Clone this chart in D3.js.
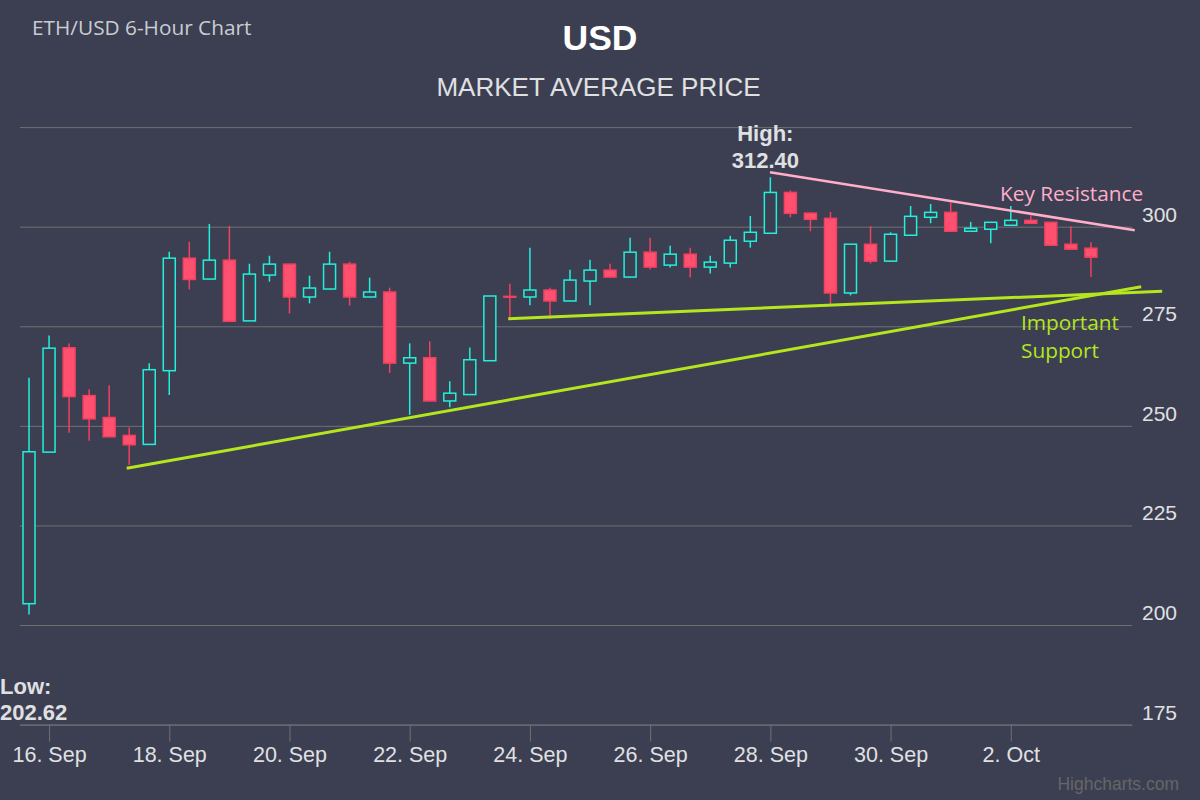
<!DOCTYPE html>
<html>
<head>
<meta charset="utf-8">
<script src="https://cdn.jsdelivr.net/npm/d3@7"></script>
<style>
html,body{margin:0;padding:0;background:#3b3f51;}
svg{display:block;}
</style>
</head>
<body>
<svg id="chart" width="1200" height="800"></svg>
<script>
// ---- data ----
const dates = [
"2017-09-15T16:00Z","2017-09-16T00:00Z","2017-09-16T08:00Z","2017-09-16T16:00Z",
"2017-09-17T00:00Z","2017-09-17T08:00Z","2017-09-17T16:00Z","2017-09-18T00:00Z",
"2017-09-18T08:00Z","2017-09-18T16:00Z","2017-09-19T00:00Z","2017-09-19T08:00Z",
"2017-09-19T16:00Z","2017-09-20T00:00Z","2017-09-20T08:00Z","2017-09-20T16:00Z",
"2017-09-21T00:00Z","2017-09-21T08:00Z","2017-09-21T16:00Z","2017-09-22T00:00Z",
"2017-09-22T08:00Z","2017-09-22T16:00Z","2017-09-23T00:00Z","2017-09-23T08:00Z",
"2017-09-23T16:00Z","2017-09-24T00:00Z","2017-09-24T08:00Z","2017-09-24T16:00Z",
"2017-09-25T00:00Z","2017-09-25T08:00Z","2017-09-25T16:00Z","2017-09-26T00:00Z",
"2017-09-26T08:00Z","2017-09-26T16:00Z","2017-09-27T00:00Z","2017-09-27T08:00Z",
"2017-09-27T16:00Z","2017-09-28T00:00Z","2017-09-28T08:00Z","2017-09-28T16:00Z",
"2017-09-29T00:00Z","2017-09-29T08:00Z","2017-09-29T16:00Z","2017-09-30T00:00Z",
"2017-09-30T08:00Z","2017-09-30T16:00Z","2017-10-01T00:00Z","2017-10-01T08:00Z",
"2017-10-01T16:00Z","2017-10-02T00:00Z","2017-10-02T08:00Z","2017-10-02T16:00Z",
"2017-10-03T00:00Z","2017-10-03T08:00Z"];
const openV = [205.35,243.4,269.6,257.6,252.1,247.6,245.35,263.85,292.1,286.85,291.6,276.35,287.85,290.6,282.35,284.35,290.6,282.35,283.6,265.75,267.1,256.25,257.85,266.35,282.5,282.35,284.1,281.35,286.35,289.1,287.35,293.6,290.35,293.1,289.85,290.85,296.35,298.35,308.6,303.4,302.1,283.35,295.6,291.35,297.85,302.35,303.6,298.85,299.35,300.35,301.6,301.1,295.6,294.6];
const highV = [262.1,272.7,270.7,259.2,260.2,249.6,265.7,293.7,296.2,300.7,300.2,290.7,292.7,290.6,287.7,293.7,291.2,287.2,284.7,270.7,271.2,261.2,269.7,282.6,285.7,294.7,284.7,289.2,291.7,290.7,297.2,297.2,295.2,294.7,292.7,297.7,302.7,312.4,309.1,303.6,303.7,295.6,300.2,298.6,305.2,305.7,306.1,301.2,301.1,305.2,302.85,301.1,300.1,296.1];
const lowV = [202.62,243.3,248.25,246.25,247.2,240.2,245.3,257.75,284.25,286.8,276.2,276.3,286.2,278.2,280.75,284.3,280.2,282.3,263.25,252.75,256.2,254.7,257.8,266.3,277.35,280.25,276.85,281.3,280.25,287.3,287.3,289.25,289.75,287.25,288.25,289.75,294.75,298.3,302.35,298.85,280.6,282.75,290.75,291.3,297.8,300.85,298.85,298.8,295.85,300.3,300.85,295.35,294.3,287.35];
const closeV = [243.5,269.5,257.35,251.75,247.25,245.25,264.1,292.1,286.75,291.6,276.25,288.1,290.6,282.35,284.6,290.6,282.35,283.6,265.75,267.1,256.25,258.2,266.6,282.6,282.3,284.1,281.35,286.6,289.1,287.35,293.6,289.85,293.1,289.85,291.1,296.6,298.6,308.6,303.35,301.85,283.35,295.6,291.35,298.1,302.6,303.6,298.85,299.6,301.1,301.6,300.85,295.35,294.35,292.35];

const xTickDates = ["2017-09-16T00:00Z","2017-09-18T00:00Z","2017-09-20T00:00Z","2017-09-22T00:00Z","2017-09-24T00:00Z","2017-09-26T00:00Z","2017-09-28T00:00Z","2017-09-30T00:00Z","2017-10-02T00:00Z"];
const xTickLabels = ["16. Sep","18. Sep","20. Sep","22. Sep","24. Sep","26. Sep","28. Sep","30. Sep","2. Oct"];
const yGridTicks = [175,200,225,250,275,300,325];
const yLabelTicks = [175,200,225,250,275,300];

// trend lines: [date, value] endpoints
const resistanceLine = [["2017-09-27T23:50Z",313.66],["2017-10-04T01:30Z",299.1]];
const supportLower = [["2017-09-17T07:00Z",239.34],["2017-10-04T04:05Z",284.94]];
const supportUpper = [["2017-09-23T15:20Z",276.9],["2017-10-04T12:27Z",283.78]];

// ---- drawing ----
const W = 1200, H = 800;
const svg = d3.select("#chart");
svg.append("rect").attr("width", W).attr("height", H).attr("fill", "#3b3f51");

const x = d3.scaleUtc()
  .domain([new Date("2017-09-15T12:24Z"), new Date("2017-10-04T00:24Z")])
  .range([20, 1132]);
const y = d3.scaleLinear().domain([175, 325]).range([724.6, 127.1]);

const candles = dates.map((d, i) => ({
  t: new Date(d), o: openV[i], h: highV[i], l: lowV[i], c: closeV[i]
}));

const sansFont = "'Liberation Sans', Arial, sans-serif";
const uiFont = "'Open Sans', 'Noto Sans', sans-serif";

// gridlines + y labels
const yAxis = d3.axisRight(y)
  .tickValues(yGridTicks)
  .tickSizeInner(-(1132 - 20))
  .tickSizeOuter(0)
  .tickPadding(10)
  .tickFormat(v => yLabelTicks.includes(v) ? String(v) : "");
const gy = svg.append("g").attr("transform", "translate(1132,0)").call(yAxis);
gy.select(".domain").remove();
gy.selectAll(".tick line").attr("stroke", "#707073").attr("stroke-width", 1);
gy.selectAll(".tick text")
  .attr("fill", "#e0e0e3")
  .attr("font-family", sansFont)
  .attr("font-size", "21px")
  .attr("dy", "-5.5px");

// x axis
const xAxis = d3.axisBottom(x)
  .tickValues(xTickDates.map(d => new Date(d)))
  .tickFormat((d, i) => xTickLabels[i])
  .tickSizeInner(17)
  .tickSizeOuter(0)
  .tickPadding(5);
const gx = svg.append("g").attr("transform", `translate(0,${y(175)})`).call(xAxis);
gx.select(".domain").attr("stroke", "#707073").attr("stroke-width", 1);
gx.selectAll(".tick line").attr("stroke", "#707073").attr("stroke-width", 1);
gx.selectAll(".tick text")
  .attr("fill", "#e0e0e3")
  .attr("font-family", sansFont)
  .attr("font-size", "21.5px");

// candles
const upColor = "#22f0da";
const downFill = "#ff5070";
const downStroke = "#f2405f";
const bodyW = 12;
const gc = svg.append("g");
const cg = gc.selectAll("g.candle").data(candles).join("g").attr("class", "candle");
cg.append("line")
  .attr("x1", d => x(d.t)).attr("x2", d => x(d.t))
  .attr("y1", d => y(d.h)).attr("y2", d => y(d.l))
  .attr("stroke", d => d.c >= d.o ? upColor : downStroke)
  .attr("stroke-width", 1.5);
cg.append("rect")
  .attr("x", d => x(d.t) - bodyW / 2)
  .attr("width", bodyW)
  .attr("y", d => y(Math.max(d.o, d.c)))
  .attr("height", d => Math.max(0.8, Math.abs(y(d.o) - y(d.c))))
  .attr("fill", d => d.c >= d.o ? "#3b3f51" : downFill)
  .attr("stroke", d => d.c >= d.o ? upColor : downStroke)
  .attr("stroke-width", 1.5);

// trend lines
const lineGen = d3.line().x(p => x(new Date(p[0]))).y(p => y(p[1]));
svg.append("path").attr("d", lineGen(resistanceLine))
  .attr("stroke", "#ffaec9").attr("stroke-width", 2.5).attr("fill", "none");
svg.append("path").attr("d", lineGen(supportLower))
  .attr("stroke", "#b5e61d").attr("stroke-width", 3).attr("fill", "none");
svg.append("path").attr("d", lineGen(supportUpper))
  .attr("stroke", "#b5e61d").attr("stroke-width", 3).attr("fill", "none");

// titles
svg.append("text").attr("x", 600).attr("y", 50).attr("text-anchor", "middle")
  .attr("font-family", sansFont)
  .attr("font-size", "35.5px").attr("font-weight", "bold").attr("fill", "#ffffff")
  .text("USD");
svg.append("text").attr("x", 598.5).attr("y", 96).attr("text-anchor", "middle")
  .attr("font-family", sansFont)
  .attr("font-size", "26px").attr("fill", "#e0e0e3")
  .text("MARKET AVERAGE PRICE");
svg.append("text").attr("x", 32).attr("y", 35)
  .attr("font-family", uiFont)
  .attr("font-size", "20.8px").attr("fill", "#c8cdd2")
  .text("ETH/USD 6-Hour Chart");

// high / low labels
const hi = candles[d3.maxIndex(candles, d => d.h)];
const lo = candles[d3.minIndex(candles, d => d.l)];
svg.append("text").attr("x", x(hi.t) - 5).attr("y", 141).attr("text-anchor", "middle")
  .attr("font-family", sansFont).attr("font-size", "22px").attr("font-weight", "bold")
  .attr("fill", "#e0e0e3").text("High:");
svg.append("text").attr("x", x(hi.t) - 5).attr("y", 168).attr("text-anchor", "middle")
  .attr("font-family", sansFont).attr("font-size", "22px").attr("font-weight", "bold")
  .attr("fill", "#e0e0e3").text(hi.h.toFixed(2));
svg.append("text").attr("x", 0).attr("y", 694)
  .attr("font-family", sansFont).attr("font-size", "22px").attr("font-weight", "bold")
  .attr("fill", "#e0e0e3").text("Low:");
svg.append("text").attr("x", 0).attr("y", 720)
  .attr("font-family", sansFont).attr("font-size", "22px").attr("font-weight", "bold")
  .attr("fill", "#e0e0e3").text(lo.l.toFixed(2));

// annotations
svg.append("text").attr("x", 1000).attr("y", 201)
  .attr("font-family", uiFont).attr("font-size", "20.8px").attr("fill", "#ffaec9")
  .text("Key Resistance");
svg.append("text").attr("x", 1021).attr("y", 330)
  .attr("font-family", uiFont).attr("font-size", "20.8px").attr("fill", "#b5e61d")
  .text("Important");
svg.append("text").attr("x", 1021).attr("y", 358)
  .attr("font-family", uiFont).attr("font-size", "20.8px").attr("fill", "#b5e61d")
  .text("Support");

// credits
svg.append("text").attr("x", 1179).attr("y", 790).attr("text-anchor", "end")
  .attr("font-family", sansFont)
  .attr("font-size", "17.5px").attr("fill", "#666666")
  .text("Highcharts.com");
</script>
</body>
</html>
